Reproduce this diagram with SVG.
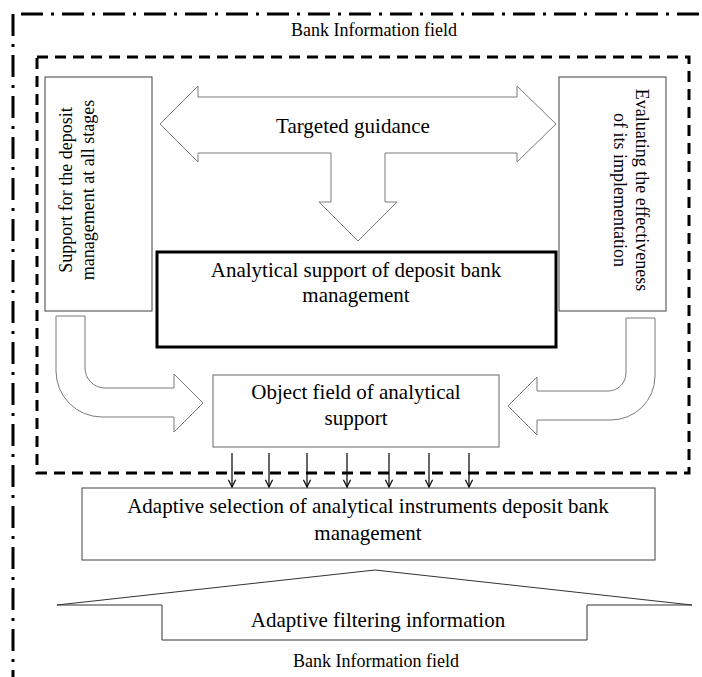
<svg xmlns="http://www.w3.org/2000/svg" width="702" height="677" viewBox="0 0 702 677">
  <style>
    text { font-family: "Liberation Serif", "Times New Roman", serif; fill: #000; }
    .t21 { font-size: 21px; text-anchor: middle; }
    .t18 { font-size: 18px; text-anchor: middle; }
    .box { fill: #fff; stroke: #404040; stroke-width: 1; }
    .blk { fill: #fff; stroke: #7a7a7a; stroke-width: 1; stroke-linejoin: miter; }
    .conn { stroke: #000; stroke-width: 1.2; fill: none; }
  </style>
  <defs>
    <marker id="ah" viewBox="0 0 10 10" refX="9" refY="5" markerWidth="9" markerHeight="9" orient="auto" markerUnits="userSpaceOnUse">
      <path d="M1,1 L9,5 L1,9" fill="none" stroke="#000" stroke-width="1.3"/>
    </marker>
  </defs>
  <rect width="702" height="677" fill="#fff"/>

  <g id="bank-field-frame">
    <path d="M13,14 H702" fill="none" stroke="#000" stroke-width="3" stroke-dasharray="22 8 3 8" stroke-dashoffset="-8"/>
    <path d="M13,14 V677" fill="none" stroke="#000" stroke-width="3" stroke-dasharray="22 8 3 8"/>
    <text class="t18" x="374" y="36">Bank Information field</text>
  </g>

  <g id="dashed-field">
    <rect x="37" y="57" width="652" height="416" fill="none" stroke="#000" stroke-width="3" stroke-dasharray="11 7"/>
  </g>

  <g id="support-stages">
    <rect class="box" x="45" y="77" width="107" height="234"/>
    <text font-size="18" text-anchor="middle" transform="translate(72,190) rotate(-90)">Support for the deposit</text>
    <text font-size="18" text-anchor="middle" transform="translate(94,190) rotate(-90)">management at all stages</text>
  </g>

  <g id="evaluating">
    <rect class="box" x="559" y="77" width="107" height="234"/>
    <text font-size="18" text-anchor="middle" transform="translate(636,190) rotate(90)">Evaluating the effectiveness</text>
    <text font-size="18" text-anchor="middle" transform="translate(614,190) rotate(90)">of its implementation</text>
  </g>

  <g id="targeted-guidance">
    <polygon class="blk" points="160,124 198,86 198,97 517,97 517,86 556,124 517,162 517,153 385,153 385,202 397,202 358,241 319,202 331,202 331,153 198,153 198,162"/>
    <text class="t21" x="353" y="133">Targeted guidance</text>
  </g>

  <g id="analytical-support">
    <rect x="157" y="252" width="399" height="95" fill="#fff" stroke="#000" stroke-width="3"/>
    <text class="t21" x="356" y="277">Analytical support of deposit bank</text>
    <text class="t21" x="356" y="302">management</text>
  </g>

  <g id="object-field">
    <rect x="213" y="375" width="286" height="72" fill="#fff" stroke="#666" stroke-width="1"/>
    <text class="t21" x="356" y="399">Object field of analytical</text>
    <text class="t21" x="356" y="425">support</text>
  </g>

  <g id="adaptive-selection">
    <rect class="box" x="82" y="488" width="573" height="72"/>
    <text class="t21" x="368" y="513">Adaptive selection of analytical instruments deposit bank</text>
    <text class="t21" x="368" y="540">management</text>
  </g>

  <g id="adaptive-filtering">
    <polygon fill="#fff" stroke="#333" stroke-width="1" points="57,605 375,570 692,605 587,605 587,640 162,640 162,605"/>
    <text class="t21" x="378" y="627">Adaptive filtering information</text>
    <text class="t18" x="376" y="667">Bank Information field</text>
  </g>

  <g id="connectors">
    <path class="blk" d="M56,316 H85 V368 A20,20 0 0 0 105,388 H174 V374 L203,403 L174,432 V417 H102 A46,46 0 0 1 56,371 Z"/>
    <path class="blk" d="M655,318 H626 V373 A18,18 0 0 1 608,391 H537 V377 L508,406 L537,435 V420 H611 A44,44 0 0 0 655,376 Z"/>
    <line class="conn" x1="232" y1="453" x2="232" y2="487" marker-end="url(#ah)"/>
    <line class="conn" x1="269" y1="453" x2="269" y2="487" marker-end="url(#ah)"/>
    <line class="conn" x1="307" y1="453" x2="307" y2="487" marker-end="url(#ah)"/>
    <line class="conn" x1="347" y1="453" x2="347" y2="487" marker-end="url(#ah)"/>
    <line class="conn" x1="389" y1="453" x2="389" y2="487" marker-end="url(#ah)"/>
    <line class="conn" x1="429" y1="453" x2="429" y2="487" marker-end="url(#ah)"/>
    <line class="conn" x1="469" y1="453" x2="469" y2="487" marker-end="url(#ah)"/>
  </g>
</svg>
